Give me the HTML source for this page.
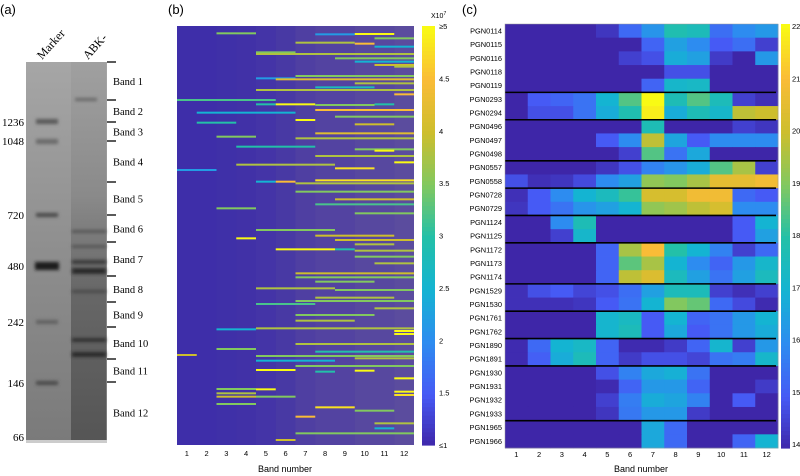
<!DOCTYPE html>
<html><head><meta charset="utf-8">
<style>
html,body{margin:0;padding:0;background:#fff;}
svg{display:block;font-family:"Liberation Sans",sans-serif;}
</style></head>
<body>
<svg id="fig" width="800" height="476" viewBox="0 0 800 476" xmlns="http://www.w3.org/2000/svg">
<defs>
<filter id="blur1" x="-20%" y="-200%" width="140%" height="500%"><feGaussianBlur stdDeviation="1.6"/></filter>
<linearGradient id="gelbg" x1="0" y1="0" x2="0" y2="1">
<stop offset="0" stop-color="#a6a6a6"/><stop offset="0.5" stop-color="#8e8e8e"/><stop offset="1" stop-color="#7a7a7a"/></linearGradient>
<linearGradient id="lane2" x1="0" y1="0" x2="0" y2="1">
<stop offset="0" stop-color="#a0a0a0"/><stop offset="0.35" stop-color="#8a8a8a"/><stop offset="0.6" stop-color="#676767"/><stop offset="1" stop-color="#555"/></linearGradient>
</defs>

<!-- Panel (a) -->
<g>
<text x="0" y="14" font-size="13">(a)</text>
<rect x="26" y="62" width="81" height="381" fill="url(#gelbg)"/>
<rect x="71" y="62" width="35" height="381" fill="url(#lane2)"/>
<g filter="url(#blur1)">
<rect x="36" y="119" width="22" height="5" fill="#5a5a5a"/>
<rect x="36" y="139" width="22" height="5" fill="#6a6a6a"/>
<rect x="36" y="213" width="22" height="4" fill="#4a4a4a"/>
<rect x="35" y="262" width="24" height="8" fill="#1e1e1e"/>
<rect x="36" y="320" width="22" height="4" fill="#606060"/>
<rect x="36" y="381" width="22" height="4" fill="#484848"/>
<rect x="75" y="98" width="22" height="3" fill="#666"/>
<rect x="72" y="230" width="34" height="3" fill="#555"/>
<rect x="72" y="245" width="34" height="3" fill="#555"/>
<rect x="72" y="260" width="34" height="4" fill="#383838"/>
<rect x="72" y="268" width="34" height="6" fill="#2a2a2a"/>
<rect x="72" y="290" width="34" height="3" fill="#4a4a4a"/>
<rect x="72" y="338" width="34" height="4" fill="#333"/>
<rect x="72" y="352" width="34" height="5" fill="#2a2a2a"/>
</g>
<rect x="26" y="440" width="81" height="3" fill="#ccc"/>
<text transform="translate(42,60) rotate(-48)" font-family="Liberation Serif,serif" font-size="12">Marker</text>
<text transform="translate(88,60) rotate(-48)" font-family="Liberation Serif,serif" font-size="12">ABK-</text>
<g id="mwlabels" font-family="Liberation Serif,serif" font-size="11" text-anchor="end"></g>
<g id="bandticks"></g>
</g>

<!-- Panel (b) -->
<g>
<text x="168" y="14" font-size="13">(b)</text>
<rect x="177" y="26" width="237" height="419" fill="#3e2ea9"/>
<g id="coltex"></g>
<g id="stripes"></g>
<g id="cbarb"></g>
<g id="bxticks" font-size="7.5" text-anchor="middle"></g>
<text x="285" y="472" font-size="9" text-anchor="middle">Band number</text>
<text x="431" y="18" font-size="7">X10<tspan dy="-3" font-size="5">7</tspan></text>
</g>

<!-- Panel (c) -->
<g>
<text x="462" y="14" font-size="13">(c)</text>
<g id="cells"></g>
<g id="seps"></g>
<g id="rowlabels" font-size="7.4" text-anchor="end"></g>
<g id="cxticks" font-size="7.5" text-anchor="middle"></g>
<rect x="505" y="24" width="273" height="424" fill="none" stroke="#999" stroke-width="0.5"/>
<g id="cbarc"></g>
<text x="641" y="472" font-size="9" text-anchor="middle">Band number</text>
</g>
</svg>
<script>
// ---------- Data ----------
const mwLabels = ["1236","1048","720","480","242","146","66"];
const mwPos = [1236,1048,720,480,242,146,66];
const bandNames = ["Band 1","Band 2","Band 3","Band 4","Band 5","Band 6","Band 7","Band 8","Band 9","Band 10","Band 11","Band 12"];
const bandBoundaries = [62,100,122,141,182,215,242,276,302,327,359,382,443];

const bandsB = [1,2,3,4,5,6,7,8,9,10,11,12];
// per-column texture (fraction of faint signal)
const columnTexture = [0,0,0.02,0.03,0.06,0.1,0.16,0.2,0.2,0.24,0.24,0.28];
// stripes: [relative row position (0..1257), first band, last band, intensity x1e7]
const stripeRow = [100,103,102,115,128,131,140,157,162,175,185,195,200,228,235,238,250,262,270,283,300,313,313,315,313,330,338,350,360,368,373,400,410,415,440,448,452,468,487,494,505,510,545,545,541,550,575,598,613,625,640,690,707,715,720,733,748,748,752,770,790,820,832,845,865,870,893,903,912,925,945,962,988,985,993,1002,1032,1047,1055,1065,1068,1075,1082,1098,1110,1112,1115,1135,1167,1168,1175,1180,1185,1190,1190,1212,1222,1232,1250,1270,1285,1320,1300];
const stripeStart = [3,8,10,11,7,10,11,5,5,9,10,11,12,7,5,6,10,8,5,12,1,5,6,8,11,8,2,9,7,2,10,8,3,7,4,10,11,8,12,4,9,1,5,6,8,7,7,9,8,3,10,5,8,4,9,10,6,9,10,10,11,7,7,8,5,9,8,7,5,11,7,7,3,5,12,12,7,3,8,1,5,10,5,7,5,10,8,12,3,5,12,3,12,3,5,3,8,10,7,11,11,6,7];
const stripeEnd   = [4,9,11,12,9,10,12,6,12,12,12,12,12,12,6,12,12,10,12,12,5,5,7,10,11,12,6,12,7,3,11,12,4,12,7,12,11,12,12,8,10,2,5,6,12,12,12,12,12,4,12,8,11,4,12,11,8,9,12,12,12,12,12,10,8,12,11,12,7,12,10,9,4,12,12,12,12,4,12,1,12,12,8,12,6,10,8,12,4,5,12,4,12,4,6,4,9,11,7,12,11,6,12];
const stripeValue = [3.5,2.2,5,3.5,3.8,4.5,2.5,3.5,3.8,3.5,2.5,4,3.8,3.5,2.2,4.2,3.8,2.8,3.8,4.5,3.2,3,5,3.5,3,4.5,2.5,3.5,5,3,4,4.2,3.5,3.8,3,3.5,5,3.8,5,3.8,4.8,2.2,2.5,4.5,4.8,3.8,3.5,4,3.2,3.5,3.5,3.5,4,5,4,3.8,5,3,3.8,3.5,3.8,4,3.5,3.5,3.8,3.5,3.8,3.5,3.2,3.8,3.5,3.8,2.5,3.8,5,5,3.8,3.5,3,4,3.5,3.8,2.5,3.5,5,5,3,5,3.5,5,5,3.8,4.8,4,3.5,3.5,4.8,3.5,4.5,3.8,2.5,4,3.5];
const cbarBTicks = ["≥5","4.5","4","3.5","3","2.5","2","1.5","≤1"];
const cbarBValues = [5,4.5,4,3.5,3,2.5,2,1.5,1];

const proteins = ["PGN0114","PGN0115","PGN0116","PGN0118","PGN0119","PGN0293","PGN0294","PGN0496","PGN0497","PGN0498","PGN0557","PGN0558","PGN0728","PGN0729","PGN1124","PGN1125","PGN1172","PGN1173","PGN1174","PGN1529","PGN1530","PGN1761","PGN1762","PGN1890","PGN1891","PGN1930","PGN1931","PGN1932","PGN1933","PGN1965","PGN1966"];
const bandsC = [1,2,3,4,5,6,7,8,9,10,11,12];
const heat = [
[14,14,14,14,14.3,15.3,16.2,17.8,17.6,15.4,16,16.3],
[14,14,14,14,14,14,15.2,16.5,16,15,15.4,14.5],
[14,14,14,14,14,14.5,14.8,16.8,16.5,14.4,14,16.3],
[14,14,14,14,14,14,14,14.8,14.8,14,14,14],
[14,14,14,14,14,14,15.2,17.2,17.3,14,14,14],
[14,15,15.2,15.5,17,18.5,22,17.7,18.5,17.6,14.5,14.2],
[14,14.8,14.8,15.5,16.8,17.8,21.8,16.8,17.7,17.2,19.8,20],
[14,14,14,14,14,14,17.7,14,14,14,14.5,14.3],
[14,14,14,14,15,16,19.8,16.6,15,16,16,16],
[14,14,14,14,14,14.5,18.5,15.5,16.7,14,14,14],
[14,14,14,14,14.3,14.8,15.8,16.2,16.8,18.5,19.5,14.5],
[14.8,14.2,14.3,14.7,16,16.5,19.2,19,19.5,20.5,20.5,20.8],
[14.2,15,16,17,17.5,18.2,20.2,20.2,20.8,20.8,15.3,15],
[14.3,15,15.5,16.2,16.5,17,19.2,19.4,19.8,20.2,16,16],
[14,14,16,17.7,14,14,14,14,14,14,15,17],
[14,14,14.5,17.2,14,14,14,14,14,14,15,16.5],
[14,14,14,14,15.2,19.5,21,18,17,15.8,14.5,15.3],
[14,14,14,14,15.2,18.6,19.5,17,16,15.2,16.3,17.2],
[14,14,14,14,15.2,19.8,20.3,17.5,16.5,15.5,16.5,17.5],
[14.2,14.8,15,14.6,14.8,15.4,16.5,17.6,17.6,14.5,14.2,14.5],
[14.2,14.2,14.2,14.3,15,15.5,17,19,18.7,15.3,14.7,14.1],
[14,14,14,14,17.1,17.4,15,17,15.2,15.5,16.3,17],
[14,14,14,14,17.1,17.6,15,16.7,15,15.5,16.3,16.8],
[14.1,15.3,17,17.3,15.2,14.1,14.1,14.4,15.2,17.1,14.5,16.3],
[14.1,15.1,16.8,17.6,15.2,14.4,14.8,14.8,14.6,15.5,15.7,17.2],
[14,14,14,14,14.8,15.8,16.7,16.9,15.5,14,14,14],
[14,14,14,14,14.1,15.2,16.3,16.3,15.2,14,14,14.4],
[14,14,14,14,14.5,15.7,16.8,16.6,15.8,14,15,14],
[14,14,14,14,14.3,15.6,16.3,16.3,14.4,14,14,14],
[14,14,14,14,14,14,16.7,15.3,14,14,14,14],
[14,14,14,14,14,14,16.7,15.3,14,14,15.2,17]
];
const groupEnds = [5,7,10,12,14,16,19,21,23,25,29];
const cbarCTicks = [22,21,20,19,18,17,16,15,14];

// ---------- Helpers ----------
const NS="http://www.w3.org/2000/svg";
function mk(tag,attrs,parent){const e=document.createElementNS(NS,tag);for(const k in attrs)e.setAttribute(k,attrs[k]);parent.appendChild(e);return e;}
const stops=[[0,[62,38,168]],[0.125,[70,90,245]],[0.25,[45,140,240]],[0.375,[20,180,210]],[0.5,[35,192,168]],[0.625,[130,200,95]],[0.75,[205,190,45]],[0.875,[250,188,55]],[1,[249,250,20]]];
function parula(t){t=Math.max(0,Math.min(1,t));for(let i=1;i<stops.length;i++){if(t<=stops[i][0]){const a=stops[i-1],b=stops[i];const f=(t-a[0])/(b[0]-a[0]);const c=a[1].map((v,j)=>Math.round(v+(b[1][j]-v)*f));return `rgb(${c[0]},${c[1]},${c[2]})`;}}return "rgb(249,250,20)";}

// ---------- Panel a ----------
const mwY = {1236:122,1048:141,720:215,480:266,242:322,146:383,66:437};
const mwG=document.getElementById('mwlabels');
mwLabels.forEach((l,i)=>{const t=mk('text',{x:24,y:mwY[mwPos[i]]+4},mwG);t.textContent=l;

});
const bt=document.getElementById('bandticks');
bandBoundaries.slice(0,12).forEach((y,i)=>{const ln=mk('line',{x1:107,x2:116,y1:y,y2:y,stroke:'#000','stroke-width':1.3},bt);

});
bandNames.forEach((n,i)=>{const y=(bandBoundaries[i]+bandBoundaries[i+1])/2+4;const t=mk('text',{x:113,y:y,'font-family':'Liberation Serif,serif','font-size':10.5},bt);t.textContent=n;

});

// ---------- Panel b ----------
const bX0=177,bX1=414,bY0=26,bY1=445;
const colW=(bX1-bX0)/bandsB.length;
const xB=b=>bX0+(b-1)*colW;
const yB=r=>bY0+(r-78)/(1335-78)*(bY1-bY0);
const colB=v=>parula((v-1)/4);
const ct=document.getElementById('coltex');
columnTexture.forEach((a,i)=>{const e=mk('rect',{x:xB(bandsB[i]),y:bY0,width:colW,height:bY1-bY0,fill:'#a89a80','fill-opacity':a},ct);

});
const sg=document.getElementById('stripes');
stripeRow.forEach((r,i)=>{const x=xB(stripeStart[i]);const w=xB(stripeEnd[i]+1)-x;
const e=mk('rect',{x:x,y:yB(r)-1,width:w,height:2,fill:colB(stripeValue[i])},sg);

});
const bxt=document.getElementById('bxticks');
bandsB.forEach(b=>{const t=mk('text',{x:xB(b)+colW/2,y:456},bxt);t.textContent=b;

});
const cb=document.getElementById('cbarb');
for(let i=0;i<100;i++){const v=5-i*0.04;mk('rect',{x:422,y:bY0+i*(bY1-bY0)/100,width:13,height:(bY1-bY0)/100+0.6,fill:colB(v)},cb);}
const cbY=v=>bY0+(5-v)/4*(bY1-bY0);
cbarBValues.forEach((v,i)=>{const t=mk('text',{x:439,y:cbY(v)+3,'font-size':7.5},cb);t.textContent=cbarBTicks[i];

});

// ---------- Panel c ----------
const cX0=505,cX1=778,cY0=24,cY1=448;
const nR=proteins.length;const rowH=(cY1-cY0)/nR;const cW=(cX1-cX0)/bandsC.length;
const colC=v=>parula((v-14)/8);
const cg=document.getElementById('cells');
heat.forEach((row,r)=>row.forEach((v,c)=>{const e=mk('rect',{x:cX0+c*cW,y:cY0+r*rowH,width:cW+0.4,height:rowH+0.4,fill:colC(v)},cg);

}));
const sp=document.getElementById('seps');
groupEnds.forEach(g=>{const e=mk('line',{x1:cX0,x2:cX1-2,y1:cY0+g*rowH,y2:cY0+g*rowH,stroke:'#000','stroke-width':1.6},sp);

});
const rl=document.getElementById('rowlabels');
proteins.forEach((p,r)=>{const t=mk('text',{x:502,y:cY0+(r+0.5)*rowH+2.6},rl);t.textContent=p;

});
const cxt=document.getElementById('cxticks');
bandsC.forEach((b,i)=>{const t=mk('text',{x:cX0+(i+0.5)*cW,y:457},cxt);t.textContent=b;

});
const cc=document.getElementById('cbarc');
for(let i=0;i<100;i++){const v=22-i*0.08;mk('rect',{x:781,y:cY0+i*(cY1-cY0)/100,width:9,height:(cY1-cY0)/100+0.6,fill:colC(v)},cc);}
cbarCTicks.forEach(v=>{const y=cY0+2+(22-v)/8*(cY1-cY0-6);const t=mk('text',{x:792,y:y+3,'font-size':7.5},cc);t.textContent=v;

});
</script>
</body></html>
